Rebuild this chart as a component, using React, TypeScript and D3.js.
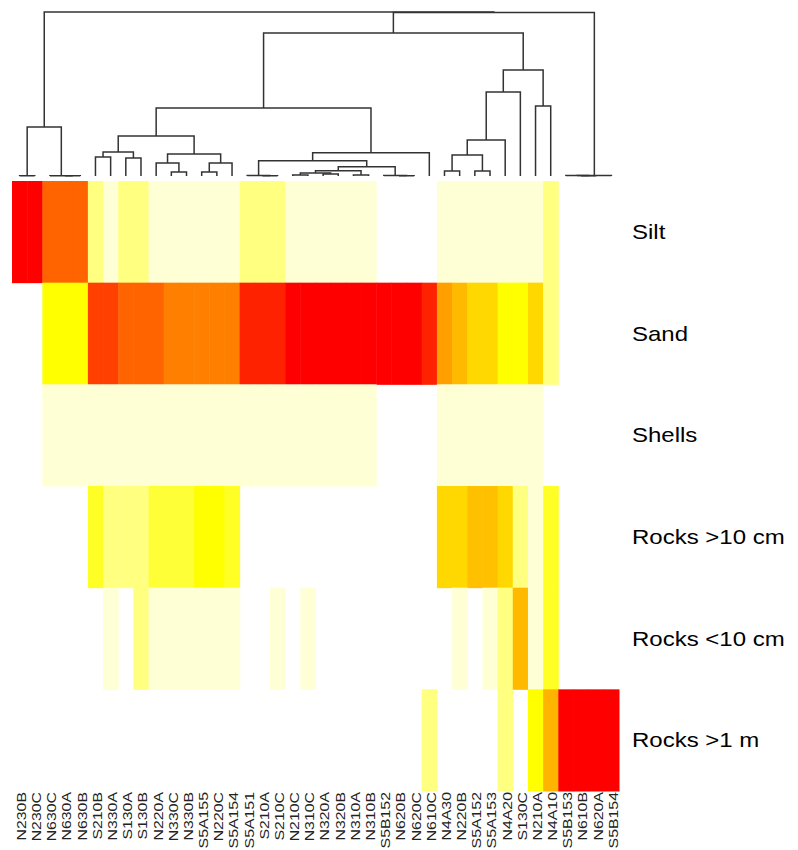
import * as d3 from "d3";

const W = 798;
const H = 850;

// column order as printed under the heatmap
const COLUMNS = [
  "N230B", "N230C", "N630C", "N630A", "N630B", "S210B", "N330A", "S130A",
  "S130B", "N220A", "N330C", "N330B", "S5A155", "N220C", "S5A154", "S5A151",
  "S210A", "S210C", "N210C", "N310C", "N320A", "N320B", "N310A", "N310B",
  "S5B152", "N620B", "N620C", "N610C", "N4A30", "N220B", "S5A152", "S5A153",
  "N4A20", "S130C", "N210A", "N4A10", "S5B153", "N610B", "N620A", "S5B154",
];

const ROWS = ["Silt", "Sand", "Shells", "Rocks >10 cm", "Rocks <10 cm", "Rocks >1 m"];

// intensity 0..100 (0 = empty cell)
const silt = [100, 100, 82, 82, 82, 20, 5, 20, 20, 5, 5, 5, 5, 5, 5, 20, 20, 20, 5, 5, 5, 5, 5, 5, 0, 0, 0, 0, 5, 5, 5, 5, 5, 5, 5, 20, 0, 0, 0, 0];
const sand = [0, 0, 35, 35, 35, 90, 90, 82, 82, 82, 75, 75, 75, 75, 75, 95, 95, 95, 100, 100, 100, 100, 100, 100, 100, 100, 100, 95, 70, 60, 50, 50, 35, 35, 50, 20, 0, 0, 0, 0];
const shells = [0, 0, 5, 5, 5, 5, 5, 5, 5, 5, 5, 5, 5, 5, 5, 5, 5, 5, 5, 5, 5, 5, 5, 5, 0, 0, 0, 0, 5, 5, 5, 5, 5, 5, 5, 0, 0, 0, 0, 0];
const rocksOver10cm = [0, 0, 0, 0, 0, 30, 20, 20, 20, 28, 28, 28, 35, 35, 30, 0, 0, 0, 0, 0, 0, 0, 0, 0, 0, 0, 0, 0, 50, 50, 58, 58, 50, 20, 5, 30, 0, 0, 0, 0];
const rocksUnder10cm = [0, 0, 0, 0, 0, 0, 5, 0, 20, 5, 5, 5, 5, 5, 5, 0, 0, 5, 0, 5, 0, 0, 0, 0, 0, 0, 0, 0, 0, 5, 0, 5, 20, 60, 5, 30, 0, 0, 0, 0];
const rocksOver1m = [0, 0, 0, 0, 0, 0, 0, 0, 0, 0, 0, 0, 0, 0, 0, 0, 0, 0, 0, 0, 0, 0, 0, 0, 0, 0, 0, 20, 0, 0, 0, 0, 20, 0, 35, 62, 100, 100, 100, 100];

const VALUES = [silt, sand, shells, rocksOver10cm, rocksUnder10cm, rocksOver1m];

// dendrogram: leaf name, or [left, right, merge height]
type TreeNode = string | [TreeNode, TreeNode, number];

const left: TreeNode = [["N230B", "N230C", 0.3], ["N630C", ["N630A", "N630B", 0.2], 0.3], 49];
const node118: TreeNode = [["S210B", "N330A", 19], ["S130A", "S130B", 18], 24];
const node194: TreeNode = [["N220A", ["N330C", "N330B", 4], 13], [["S5A155", "N220C", 4], "S5A154", 13], 22];
const node338: TreeNode = [[["N210C", "N310C", 1], ["N320A", "N320B", 2], 3], ["N310A", "N310B", 1], 5.3];
const node367: TreeNode = [node338, ["S5B152", ["N620B", "N620C", 0.2], 0.4], 9.3];
const node312: TreeNode = [["S5A151", ["S210A", "S210C", 0.3], 0.6], node367, 15.3];
const node263: TreeNode = [[node118, node194, 40], [node312, "N610C", 23.3], 68];
const node487: TreeNode = [[["N4A30", "N220B", 5], ["S5A152", "S5A153", 5], 21], "N4A20", 36];
const node524: TreeNode = [[node487, "S130C", 84], ["N210A", "N4A10", 70], 106];
const right: TreeNode = [["S5B153", ["N610B", "N620A", 0.2], 0.4], "S5B154", 0.6];
const TREE: TreeNode = [left, [[node263, node524, 143], right, 163.5], 164];

const LEVELS = [5, 20, 30, 35, 50, 60, 70, 75, 82, 90, 95, 100];
const LEVEL_COLORS = [
  "#FFFFD6", "#FFFF80", "#FFFF26", "#FFFF00", "#FFD800", "#FFBA00",
  "#FFA000", "#FF8000", "#FF6400", "#FF4000", "#FF2200", "#FF0000",
];

const HEAT = { x0: 12, x1: 619, y0: 181, y1: 791 };
const DENDRO = { top: 12, bottom: 176, stroke: "#333", width: 1.5 };
const ROW_LABEL = { gap: 13, fontSize: 20, stretch: 1.2 };
const COL_LABEL = { top: 792, fontSize: 12.5, stretch: 1.27 };

export default function App() {
  const x = d3.scaleBand<string>().domain(COLUMNS).range([HEAT.x0, HEAT.x1]);
  const y = d3.scaleBand<string>().domain(ROWS).range([HEAT.y0, HEAT.y1]);
  const color = d3.scaleLinear<string>().domain(LEVELS).range(LEVEL_COLORS).clamp(true);

  const root = d3.hierarchy<TreeNode>(TREE, (d) =>
    typeof d === "string" ? null : [d[0], d[1]],
  );
  const maxH = (TREE as [TreeNode, TreeNode, number])[2];
  const hy = d3.scaleLinear().domain([0, maxH]).range([DENDRO.bottom, DENDRO.top]);

  const pos = new Map<d3.HierarchyNode<TreeNode>, { x: number; h: number }>();
  root.eachAfter((n) => {
    if (typeof n.data === "string") {
      pos.set(n, { x: x(n.data)! + x.bandwidth() / 2, h: 0 });
    } else {
      const [a, b] = n.children!;
      pos.set(n, { x: (pos.get(a)!.x + pos.get(b)!.x) / 2, h: n.data[2] });
    }
  });

  const links: string[] = [];
  root.each((n) => {
    if (!n.children) return;
    const p = pos.get(n)!;
    const a = pos.get(n.children[0])!;
    const b = pos.get(n.children[1])!;
    links.push(`M${a.x},${hy(a.h)}V${hy(p.h)}H${b.x}V${hy(b.h)}`);
  });

  return (
    <svg
      width={W}
      height={H}
      style={{ position: "absolute", left: 0, top: 0, background: "#fff" }}
      fontFamily="Liberation Sans, Arial, sans-serif"
    >
      <g className="heat">
        {ROWS.map((row, r) =>
          VALUES[r].map((v, c) =>
            v > 0 ? (
              <rect
                key={`${r}-${c}`}
                x={x(COLUMNS[c])}
                y={y(row)}
                width={x.bandwidth() + 0.5}
                height={y.bandwidth() + 0.5}
                fill={color(v)}
              />
            ) : null,
          ),
        )}
      </g>
      <g className="dendrogram" fill="none" stroke={DENDRO.stroke} strokeWidth={DENDRO.width}>
        {links.map((d, i) => (
          <path key={i} d={d} />
        ))}
      </g>
      <g className="row-labels">
        {ROWS.map((row) => (
          <text
            key={row}
            transform={`translate(${HEAT.x1 + ROW_LABEL.gap},${y(row)! + y.bandwidth() / 2 + 7}) scale(${ROW_LABEL.stretch},1)`}
            fontSize={ROW_LABEL.fontSize}
            fill="#000"
          >
            {row}
          </text>
        ))}
      </g>
      <g className="col-labels">
        {COLUMNS.map((col) => (
          <text
            key={col}
            transform={`translate(${x(col)! + x.bandwidth() / 2 + 2},${COL_LABEL.top}) rotate(-90) scale(${COL_LABEL.stretch},1)`}
            fontSize={COL_LABEL.fontSize}
            textAnchor="end"
            dominantBaseline="central"
            fill="#222"
          >
            {col}
          </text>
        ))}
      </g>
    </svg>
  );
}
